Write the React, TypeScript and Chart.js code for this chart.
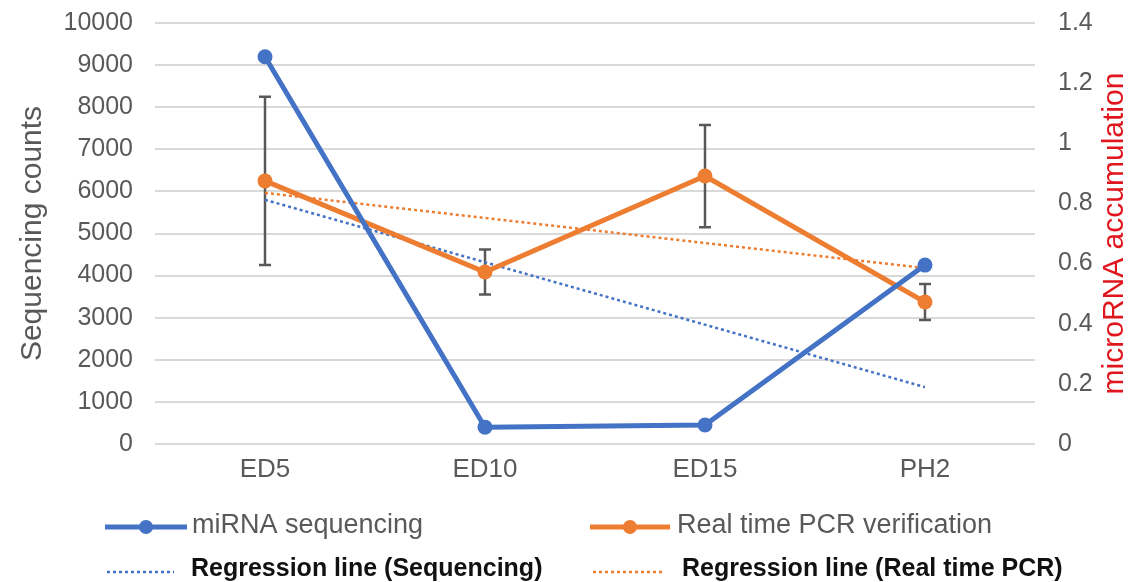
import React, { useEffect, useRef } from 'react';
import { Chart, registerables } from 'chart.js';

Chart.register(...registerables);

const categories = ['ED5', 'ED10', 'ED15', 'PH2'];
const sequencingCounts = [9200, 400, 450, 4250];
const pcrAccumulation = [0.875, 0.572, 0.891, 0.472];
const pcrError = [0.28, 0.075, 0.17, 0.06];
const regressionSequencing = [5800, null, null, 1350];
const regressionPcr = [0.835, null, null, 0.585];
const leftAxisRange = [0, 10000, 1000];
const rightAxisRange = [0, 1.4, 0.2];
const leftTickLabels = ['0', '1000', '2000', '3000', '4000', '5000', '6000', '7000', '8000', '9000', '10000'];
const rightTickLabels = ['0', '0.2', '0.4', '0.6', '0.8', '1', '1.2', '1.4'];
const seriesLabels = [
  'miRNA sequencing',
  'Real time PCR verification',
  'Regression line (Sequencing)',
  'Regression line (Real time PCR)',
];
const leftTitle = 'Sequencing counts';
const rightTitle = 'microRNA accumulation';

const BLUE = '#4472C4';
const ORANGE = '#ED7D31';
const GRAY = '#595959';
const FONT = '"Liberation Sans", Arial, sans-serif';

const errorBarPlugin = {
  id: 'errorBars',
  beforeDatasetsDraw(chart: any) {
    const ctx = chart.ctx;
    const meta = chart.getDatasetMeta(1);
    const y1 = chart.scales.y1;
    ctx.save();
    ctx.strokeStyle = GRAY;
    ctx.lineWidth = 2.5;
    meta.data.forEach((pt: any, i: number) => {
      const v = pcrAccumulation[i];
      const e = pcrError[i];
      const top = y1.getPixelForValue(v + e);
      const bot = y1.getPixelForValue(v - e);
      const x = pt.x;
      ctx.beginPath();
      ctx.moveTo(x, top);
      ctx.lineTo(x, bot);
      ctx.moveTo(x - 6, top);
      ctx.lineTo(x + 6, top);
      ctx.moveTo(x - 6, bot);
      ctx.lineTo(x + 6, bot);
      ctx.stroke();
    });
    ctx.restore();
  },
};

const overlayPlugin = {
  id: 'overlay',
  afterDraw(chart: any) {
    const ctx = chart.ctx;
    const ds = chart.data.datasets;
    const area = chart.chartArea;
    ctx.save();
    // right axis title (reads bottom to top)
    ctx.translate(1115, (area.top + area.bottom) / 2);
    ctx.rotate(-Math.PI / 2);
    ctx.font = `30px ${FONT}`;
    ctx.fillStyle = '#E0161E';
    ctx.textAlign = 'center';
    ctx.textBaseline = 'middle';
    ctx.fillText(rightTitle, 0, 0);
    ctx.restore();

    // legend
    const drawSample = (x0: number, x1: number, y: number, color: string, dotted: boolean) => {
      ctx.save();
      ctx.strokeStyle = color;
      ctx.lineWidth = dotted ? 2.5 : 5;
      ctx.setLineDash(dotted ? [3, 3] : []);
      ctx.beginPath();
      ctx.moveTo(x0, y);
      ctx.lineTo(x1, y);
      ctx.stroke();
      if (!dotted) {
        ctx.fillStyle = color;
        ctx.beginPath();
        ctx.arc((x0 + x1) / 2, y, 7, 0, Math.PI * 2);
        ctx.fill();
      }
      ctx.restore();
    };
    const drawText = (text: string, x: number, y: number, font: string, color: string) => {
      ctx.save();
      ctx.font = font;
      ctx.fillStyle = color;
      ctx.textAlign = 'left';
      ctx.textBaseline = 'middle';
      ctx.fillText(text, x, y);
      ctx.restore();
    };
    drawSample(105, 187, 527, ds[0].borderColor, false);
    drawText(ds[0].label, 192, 526, `27px ${FONT}`, GRAY);
    drawSample(590, 670, 527, ds[1].borderColor, false);
    drawText(ds[1].label, 677, 526, `27px ${FONT}`, GRAY);
    drawSample(107, 174, 572, ds[2].borderColor, true);
    drawText(ds[2].label, 191, 569, `bold 25px ${FONT}`, '#111111');
    drawSample(593, 663, 572, ds[3].borderColor, true);
    drawText(ds[3].label, 682, 569, `bold 25px ${FONT}`, '#111111');
  },
};

const fixVertical = (width: number) => (s: any) => {
  s.width = width;
  s.paddingTop = 0;
  s.paddingBottom = 0;
};

export default function App() {
  const canvasRef = useRef<HTMLCanvasElement | null>(null);

  useEffect(() => {
    if (!canvasRef.current) return;
    const chart = new Chart(canvasRef.current, {
      type: 'line',
      data: {
        labels: categories,
        datasets: [
          {
            label: seriesLabels[0],
            data: sequencingCounts,
            yAxisID: 'y',
            borderColor: BLUE,
            backgroundColor: BLUE,
            borderWidth: 5,
            pointRadius: 7.5,
            pointBorderWidth: 0,
            pointBackgroundColor: BLUE,
            tension: 0,
            order: 0,
          },
          {
            label: seriesLabels[1],
            data: pcrAccumulation,
            yAxisID: 'y1',
            borderColor: ORANGE,
            backgroundColor: ORANGE,
            borderWidth: 5,
            pointRadius: 7.5,
            pointBorderWidth: 0,
            pointBackgroundColor: ORANGE,
            tension: 0,
            order: 1,
          },
          {
            label: seriesLabels[2],
            data: regressionSequencing,
            yAxisID: 'y',
            borderColor: BLUE,
            borderWidth: 2.5,
            borderDash: [3, 3],
            pointRadius: 0,
            spanGaps: true,
            tension: 0,
            order: 2,
          },
          {
            label: seriesLabels[3],
            data: regressionPcr,
            yAxisID: 'y1',
            borderColor: ORANGE,
            borderWidth: 2.5,
            borderDash: [3, 3],
            pointRadius: 0,
            spanGaps: true,
            tension: 0,
            order: 3,
          },
        ],
      },
      options: {
        responsive: false,
        animation: false,
        layout: { padding: { top: 23, bottom: 88, left: 0, right: 0 } },
        plugins: {
          legend: { display: false },
          tooltip: { enabled: false },
        },
        scales: {
          x: {
            offset: true,
            grid: { display: false, drawTicks: false },
            border: { display: false },
            ticks: { color: GRAY, font: { family: FONT, size: 26 }, padding: 10 },
            afterFit: (s: any) => { s.height = 50; s.paddingLeft = 0; s.paddingRight = 0; },
          },
          y: {
            position: 'left',
            min: leftAxisRange[0],
            max: leftAxisRange[1],
            ticks: {
              stepSize: leftAxisRange[2],
              color: GRAY,
              font: { family: FONT, size: 25 },
              padding: 22,
              callback: (_v: any, i: number) => leftTickLabels[i],
            },
            grid: { color: '#D9D9D9', lineWidth: 2, drawTicks: false },
            border: { display: false },
            title: {
              display: true,
              text: leftTitle,
              color: GRAY,
              font: { family: FONT, size: 30 },
              padding: { top: 15, bottom: 0 },
            },
            afterFit: fixVertical(155),
          },
          y1: {
            position: 'right',
            min: rightAxisRange[0],
            max: rightAxisRange[1],
            ticks: {
              stepSize: rightAxisRange[2],
              color: GRAY,
              font: { family: FONT, size: 25 },
              padding: 23,
              callback: (_v: any, i: number) => rightTickLabels[i],
            },
            grid: { display: false, drawTicks: false },
            border: { display: false },
            afterFit: fixVertical(105),
          },
        },
      },
      plugins: [errorBarPlugin, overlayPlugin],
    } as any);
    return () => chart.destroy();
  }, []);

  return (
    <div style={{ position: 'absolute', left: 0, top: 0, width: 1140, height: 582, background: '#fff' }}>
      <canvas ref={canvasRef} width={1140} height={582} style={{ display: 'block' }} />
    </div>
  );
}
